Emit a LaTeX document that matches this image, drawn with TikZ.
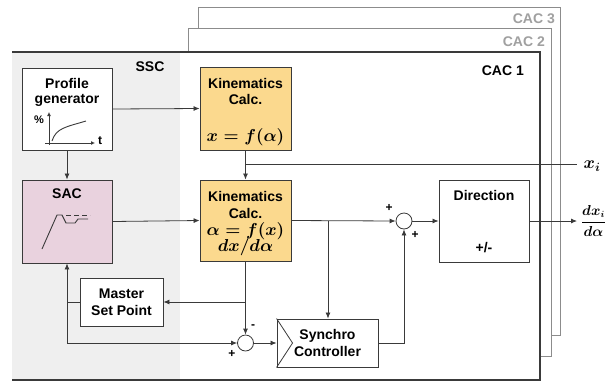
\documentclass[tikz,border=0pt]{standalone}
\usepackage{amsmath,bm}
\usepackage{fontspec}
\setmainfont{Liberation Sans}
\usetikzlibrary{arrows.meta,calc}
\definecolor{linec}{HTML}{3A3A3A}
\definecolor{framec}{HTML}{8C8C8C}
\definecolor{labgray}{HTML}{A0A0A0}
\definecolor{ssc}{HTML}{EFEFEF}
\definecolor{kinfill}{HTML}{FBD98E}
\definecolor{sacfill}{HTML}{E9D2DE}
\tikzset{
  blk/.style={draw=linec, line width=0.9pt, fill=white, inner sep=0pt, align=center,
    font=\fontsize{14}{17}\selectfont\bfseries},
  txt/.style={inner sep=0pt, font=\fontsize{14}{17}\selectfont\bfseries},
  mth/.style={inner sep=0pt, font=\fontsize{16.5}{19}\selectfont\boldmath},
  omth/.style={inner sep=0pt, font=\fontsize{13.5}{16}\selectfont\boldmath},
  arr/.style={draw=linec, line width=0.8pt, -{Latex[length=6pt,width=5pt]}},
  ln/.style={draw=linec, line width=0.8pt},
  sumc/.style={circle, draw=linec, line width=0.8pt, fill=white, minimum size=16pt, inner sep=0pt},
  sgn/.style={inner sep=0pt, font=\fontsize{12}{14}\selectfont\bfseries},
}
\begin{document}
\begin{tikzpicture}[x=1pt,y=-1pt]
\useasboundingbox (0,0) rectangle (607,381);
% frames
\draw[framec, line width=1pt, fill=white] (198,7) rectangle (560,335);
\draw[framec, line width=1pt, fill=white] (188,28) rectangle (551,356);
\fill[white] (12,52) rectangle (540,380);
\fill[ssc] (12,52) rectangle (180,380);
\draw[linec, line width=1.1pt] (12,52) -- (540,52) -- (540,380) -- (12,380);
\node[txt, text=labgray, anchor=east] (cac3) at (555,19) {CAC 3};
\node[txt, text=labgray, anchor=east] (cac2) at (545,42) {CAC 2};
\node[txt, anchor=east] (cac1) at (524,71) {CAC 1};
\node[txt] (ssclab) at (150,67) {SSC};

% blocks
\node[blk, minimum width=90pt, minimum height=82pt] (pg) at (67,109) {};
\node[txt] at (67,83) {Profile};
\node[txt] at (67,100) {generator};
\node[blk, fill=sacfill, minimum width=90pt, minimum height=83pt] (sac) at (67,221.5) {};
\node[txt] at (67,194) {SAC};
\node[blk, fill=kinfill, minimum width=91pt, minimum height=83pt] (kin1) at (245.5,108.5) {};
\node[txt] at (245.5,83) {Kinematics};
\node[txt] at (245.5,99.5) {Calc.};
\node[mth] at (245.5,137) {$x = f(\alpha)$};
\node[blk, fill=kinfill, minimum width=91pt, minimum height=81pt] (kin2) at (245.5,220.5) {};
\node[txt] at (245.5,196) {Kinematics};
\node[txt] at (245.5,213.5) {Calc.};
\node[mth] at (245.5,231) {$\alpha = f(x)$};
\node[mth] at (245.5,247) {$dx/d\alpha$};
\node[blk, minimum width=83pt, minimum height=48pt] (msp) at (121.5,302) {Master\\Set Point};
\node[blk, minimum width=101pt, minimum height=48pt] (sync) at (327.5,343) {Synchro\\Controller};
\draw[linec, line width=0.8pt] (sync.north west) -- ($(sync.west)+(16,0)$) -- (sync.south west);
\node[blk, minimum width=90pt, minimum height=82pt] (dir) at (484,221) {};
\node[txt] at (484,195) {Direction};
\node[txt] at (484,248) {+/-};
\node[sumc] (s1) at (404,221) {};
\node[sumc] (s2) at (245.5,343) {};
\node[sgn] at (389,208) {+};
\node[sgn] at (415,235) {+};
\node[sgn] at (253,327) {-};
\node[sgn] at (232,354) {+};

% icons
\draw[linec, line width=0.9pt, -{Latex[length=4pt,width=4pt]}] (45,143) -- (95,143);
\draw[linec, line width=0.9pt, -{Latex[length=4pt,width=4pt]}] (49,145) -- (49,112);
\node[inner sep=0pt, font=\fontsize{12}{14}\selectfont\bfseries] at (100,141) {t};
\node[inner sep=0pt, font=\fontsize{11}{13}\selectfont\bfseries] at (39,120) {\%};
\draw[linec, line width=0.9pt] (52,141) .. controls (56,128) and (66,127) .. (86,121);
\draw[linec, line width=0.9pt] (42,249) -- (57,215) -- (62,215) -- (66,223) -- (75,223) -- (78,219) -- (88,219);
\draw[linec, line width=0.9pt, dash pattern=on 5pt off 3pt] (66,215) -- (90,215);

% outputs
\coordinate (xb) at (245.5,164);
\coordinate (xiend) at (577,164);
\coordinate (dxend) at (577,221);
\node[mth] (xi) at (592,166) {$x_i$};
\node[omth] (dxl) at (593.5,221) {$\dfrac{dx_i}{d\alpha}$};

% connectors
\draw[arr] (pg.east) -- (kin1.west);
\draw[arr] (pg.south) -- (sac.north);
\draw[arr] (kin1.south) -- (kin2.north);
\draw[ln] (xb) -- (xiend);
\draw[arr] (sac.east) -- (kin2.west);
\draw[arr] (kin2.east) -- (s1.west);
\coordinate (b1) at (328,221);
\draw[arr] (b1) -- (b1 |- sync.north);
\draw[arr] (s1.east) -- (dir.west);
\draw[arr] (dir.east) -- (dxend);
\draw[arr] (sync.east) -| (s1.south);
\draw[arr] (kin2.south) -- (s2.north);
\draw[arr] (kin2.south |- msp.east) -- (msp.east);
\coordinate (fb) at (sac.south |- s2.west);
\draw[ln] (msp.west) -- (msp.west -| sac.south);
\draw[arr] (fb) -- (sac.south);
\draw[arr] (fb) -- (s2.west);
\draw[arr] (s2.east) -- (sync.west);
\end{tikzpicture}
\end{document}
